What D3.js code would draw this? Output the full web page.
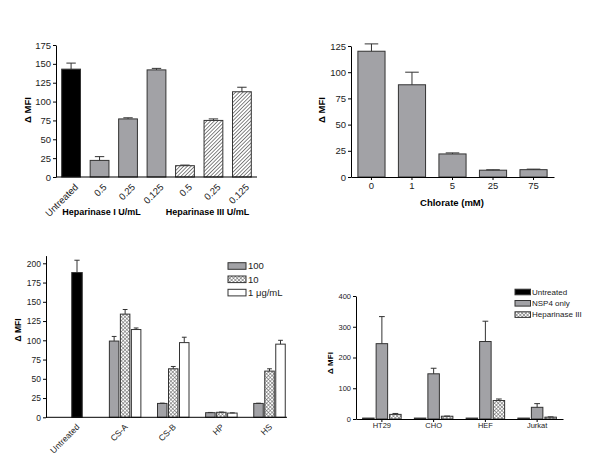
<!DOCTYPE html>
<html><head><meta charset="utf-8">
<script src="https://cdn.jsdelivr.net/npm/d3@7"></script>
<style>
body{margin:0;background:#fff;}
text{font-family:"Liberation Sans",Arial,sans-serif;}
</style></head>
<body><svg id="c" width="600" height="465"></svg>
<script>
// Panel A: heparinase
const aLabels = ["Untreated","0.5","0.25","0.125","0.5","0.25","0.125"];
const aValues = [143, 22, 77, 142, 15, 75, 113];
const aErrors = [8, 5, 1.5, 2, 0.8, 2, 6];
const aKinds  = ["black","grey","grey","grey","hatch","hatch","hatch"];
const aGroupLabels = ["Heparinase I U/mL","Heparinase III U/mL"];
const aTicks = [0,25,50,75,100,125,150,175];

// Panel B: chlorate
const bLabels = ["0","1","5","25","75"];
const bValues = [120, 88, 22, 6.5, 7];
const bErrors = [7, 12, 1, 0.4, 0.5];
const bTicks = [0,25,50,75,100,125];

// Panel C: GAG competition
const cGroups = ["Untreated","CS-A","CS-B","HP","HS"];
const cSeries = ["100","10","1 \u03BCg/mL"];
const cUntreated = 188, cUntreatedErr = 16;
const c100 = [99, 18, 6, 18];
const c100Err = [6, 0.4, 0.3, 0.3];
const c10 = [134, 63, 6.5, 60];
const c10Err = [6, 3, 0.3, 3];
const c1 = [114, 97, 5.5, 95];
const c1Err = [2, 7, 0.3, 5];
const cTicks = [0,25,50,75,100,125,150,175,200];

// Panel D: cell lines
const dGroups = ["HT29","CHO","HEF","Jurkat"];
const dSeries = ["Untreated","NSP4 only","Heparinase III"];
const dUntreated = [3, 3, 3, 3];
const dNSP4 = [245, 147, 252, 38];
const dNSP4Err = [88, 18, 66, 12];
const dHep = [15, 9, 60, 6];
const dHepErr = [3, 0.5, 5, 1];
const dTicks = [0,100,200,300,400];

const svg = d3.select("#c");
const defs = svg.append("defs");
// diagonal hatch
const p1 = defs.append("pattern").attr("id","diag").attr("patternUnits","userSpaceOnUse")
  .attr("width",2.6).attr("height",2.6).attr("patternTransform","rotate(45)");
p1.append("rect").attr("width",2.6).attr("height",2.6).attr("fill","#fff");
p1.append("line").attr("x1",0).attr("y1",0).attr("x2",0).attr("y2",2.6).attr("stroke","#444").attr("stroke-width",1.3);
// cross hatch
const p2 = defs.append("pattern").attr("id","cross").attr("patternUnits","userSpaceOnUse")
  .attr("width",2.6).attr("height",2.6).attr("patternTransform","rotate(45)");
p2.append("rect").attr("width",2.6).attr("height",2.6).attr("fill","#fff");
p2.append("line").attr("x1",0).attr("y1",0).attr("x2",0).attr("y2",2.6).attr("stroke","#555").attr("stroke-width",1);
p2.append("line").attr("x1",0).attr("y1",0).attr("x2",2.6).attr("y2",0).attr("stroke","#555").attr("stroke-width",1);

const GREY = "#a2a2a6", STROKE = "#333";
const fillOf = k => k==="black" ? "#000" : k==="grey" ? GREY : k==="hatch" ? "url(#diag)" : k==="cross" ? "url(#cross)" : "#fff";

function yAxis(g, y, x0, ticks, fs){
  const ax = g.append("g").attr("transform",`translate(${x0},0)`)
    .call(d3.axisLeft(y).tickValues(ticks).tickSize(3).tickSizeOuter(0).tickPadding(2));
  ax.select(".domain").attr("stroke","#000");
  ax.selectAll(".tick line").attr("stroke","#000");
  ax.selectAll("text").attr("font-size",fs).attr("fill","#222");
}
function yTitle(x, yc, fs){
  svg.append("text").attr("transform",`translate(${x},${yc}) rotate(-90)`)
    .attr("text-anchor","middle").attr("font-size",fs).attr("font-weight","bold").text("\u0394 MFI");
}
function bar(x, w, y, v, e, fill){
  svg.append("rect").attr("x",x).attr("y",y(v)).attr("width",w).attr("height",y(0)-y(v))
    .attr("fill",fill).attr("stroke",STROKE).attr("stroke-width",1);
  if(e>0){
    const cx = x + w/2;
    svg.append("line").attr("x1",cx).attr("x2",cx).attr("y1",y(v)).attr("y2",y(v+e)).attr("stroke",STROKE);
    svg.append("line").attr("x1",cx-w/4).attr("x2",cx+w/4).attr("y1",y(v+e)).attr("y2",y(v+e)).attr("stroke",STROKE);
  }
}

// ---- Panel A
{
  const y = d3.scaleLinear().domain([0,175]).range([177,45]);
  const x = d3.scaleBand().domain(d3.range(aValues.length)).range([56,257]).paddingInner(0.34).paddingOuter(0.2);
  aValues.forEach((v,i)=> bar(x(i), x.bandwidth(), y, v, aErrors[i], fillOf(aKinds[i])));
  svg.append("line").attr("x1",56).attr("x2",257).attr("y1",y(0)).attr("y2",y(0)).attr("stroke","#000");
  yAxis(svg.append("g"), y, 56, aTicks, 9.5);
  aLabels.forEach((l,i)=>{
    const cx = x(i)+x.bandwidth()/2 + 3;
    svg.append("text").attr("transform",`translate(${cx},${y(0)+6}) rotate(-45)`)
      .attr("text-anchor","end").attr("dy","0.7em").attr("font-size",9.5).attr("fill","#222").text(l);
  });
  svg.append("text").attr("x",101.5).attr("y",215).attr("text-anchor","middle")
    .attr("font-size",9).attr("font-weight","bold").text(aGroupLabels[0]);
  svg.append("text").attr("x",207.5).attr("y",215).attr("text-anchor","middle")
    .attr("font-size",9).attr("font-weight","bold").text(aGroupLabels[1]);
  yTitle(31, 110, 9.5);
}

// ---- Panel B
{
  const y = d3.scaleLinear().domain([0,125]).range([177,46]);
  const x = d3.scaleBand().domain(bLabels).range([351,554]).paddingInner(0.33).paddingOuter(0.17);
  bLabels.forEach((l,i)=> bar(x(l), x.bandwidth(), y, bValues[i], bErrors[i], GREY));
  const ax = svg.append("g").attr("transform",`translate(0,${y(0)})`)
    .call(d3.axisBottom(x).tickSize(3).tickSizeOuter(0).tickPadding(2));
  ax.select(".domain").attr("stroke","#000");
  ax.selectAll("text").attr("font-size",9.5).attr("fill","#222");
  yAxis(svg.append("g"), y, 351, bTicks, 9.5);
  svg.append("text").attr("x",452).attr("y",206).attr("text-anchor","middle")
    .attr("font-size",9.5).attr("font-weight","bold").text("Chlorate (mM)");
  yTitle(325, 110, 9.5);
}

// ---- Panel C
{
  const y = d3.scaleLinear().domain([0,210]).range([417.3,255.6]);
  const x = d3.scalePoint().domain(cGroups).range([77,269.5]);
  const bw = 9.5, step = 11;
  bar(x("Untreated")-bw/2-0.5, bw+1, y, cUntreated, cUntreatedErr, "#000");
  const ser = [[c100,c100Err,GREY],[c10,c10Err,"url(#cross)"],[c1,c1Err,"#fff"]];
  cGroups.slice(1).forEach((g,gi)=>{
    ser.forEach((s,si)=>{
      const cx = x(g) + (si-1)*step;
      bar(cx-bw/2, bw, y, s[0][gi], s[1][gi], s[2]);
    });
  });
  svg.append("line").attr("x1",46).attr("x2",287).attr("y1",y(0)).attr("y2",y(0)).attr("stroke","#000");
  yAxis(svg.append("g"), y, 46, cTicks, 8.5);
  cGroups.forEach(g=>{
    svg.append("text").attr("transform",`translate(${x(g)-1},${y(0)+6}) rotate(-45)`)
      .attr("text-anchor","end").attr("dy","0.7em").attr("font-size",8.5).attr("fill","#222").text(g);
  });
  const lf = [GREY,"url(#cross)","#fff"];
  cSeries.forEach((s,i)=>{
    const yy = 266 + i*13.3;
    svg.append("rect").attr("x",228).attr("y",yy-3.3).attr("width",18).attr("height",6.6)
      .attr("fill",lf[i]).attr("stroke",STROKE);
    svg.append("text").attr("x",248).attr("y",yy).attr("dy","0.35em").attr("font-size",9.5).attr("fill","#222").text(s);
  });
  yTitle(21, 330, 8.5);
}

// ---- Panel D
{
  const y = d3.scaleLinear().domain([0,400]).range([419,296]);
  const x = d3.scaleBand().domain(dGroups).range([356,563]);
  const bw = 11.5, step = 13.5;
  const ser = [[dUntreated,null,"#000"],[dNSP4,dNSP4Err,GREY],[dHep,dHepErr,"url(#cross)"]];
  dGroups.forEach((g,gi)=>{
    const c = x(g)+x.bandwidth()/2;
    ser.forEach((s,si)=>{
      bar(c+(si-1)*step-bw/2, bw, y, s[0][gi], s[1]?s[1][gi]:0, s[2]);
    });
  });
  const ax = svg.append("g").attr("transform",`translate(0,${y(0)})`)
    .call(d3.axisBottom(x).tickSize(3).tickSizeOuter(0).tickPadding(1));
  ax.select(".domain").attr("stroke","#000");
  ax.selectAll("text").attr("font-size",7.5).attr("fill","#222");
  yAxis(svg.append("g"), y, 356, dTicks, 7.5);
  const lf = ["#000",GREY,"url(#cross)"];
  dSeries.forEach((s,i)=>{
    const yy = 292 + i*11.3;
    svg.append("rect").attr("x",515).attr("y",yy-2.8).attr("width",15.5).attr("height",5.6)
      .attr("fill",lf[i]).attr("stroke",STROKE);
    svg.append("text").attr("x",532).attr("y",yy).attr("dy","0.35em").attr("font-size",8).attr("fill","#222").text(s);
  });
  yTitle(333, 363, 8);
}
</script></body></html>
